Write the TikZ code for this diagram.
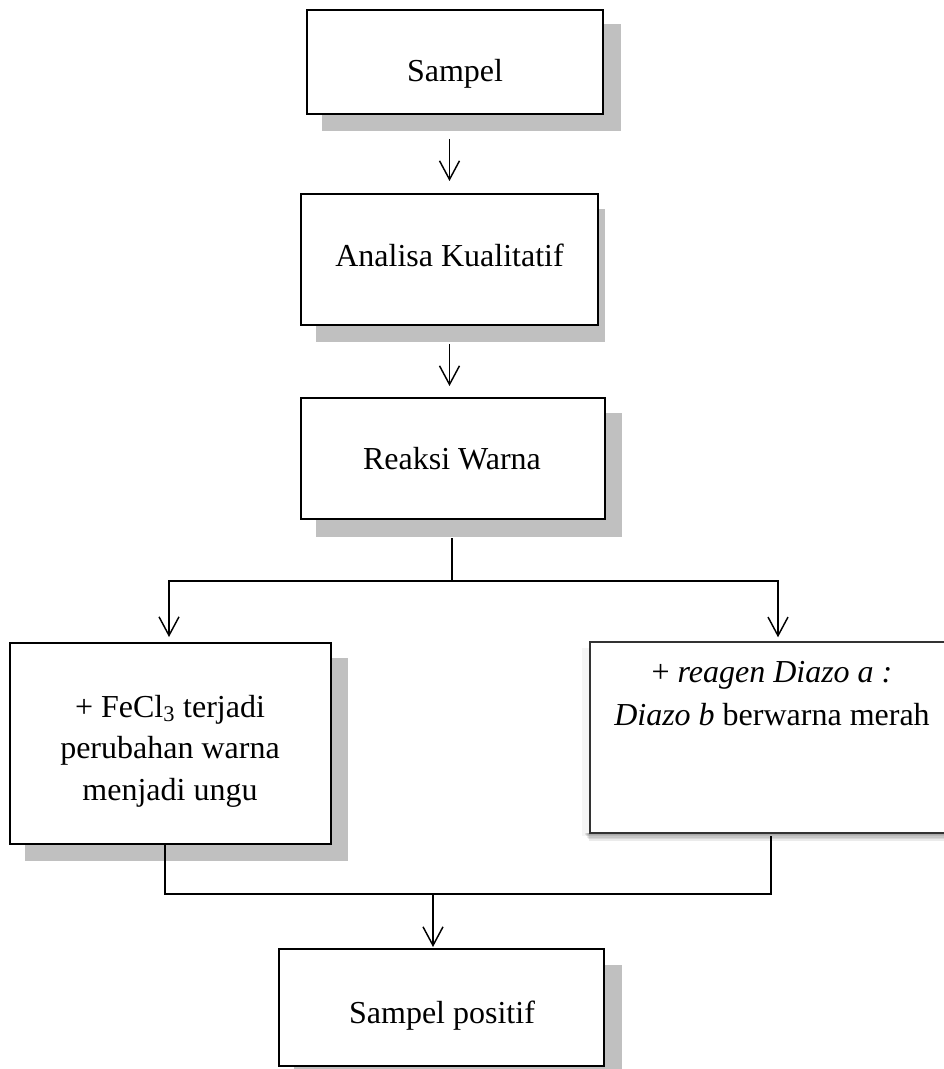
\documentclass[tikz,border=0pt]{standalone}
\usepackage{fontspec}
\setmainfont{Liberation Serif}
\usetikzlibrary{arrows.meta}
\definecolor{shd}{RGB}{192,192,192}
\begin{document}
\begin{tikzpicture}[x=0.75pt,y=-0.75pt,
  box/.style={draw=black, line width=1.5pt, fill=white, inner sep=0pt},
  shadowbox/.style={fill=shd},
  conn/.style={draw=black, line width=1.4pt},
  arr/.style={conn, -{Straight Barb[length=14pt,width=15pt,line width=1.1pt]}},
  lbl/.style={anchor=base, inner sep=0pt, font=\fontsize{24}{30}\selectfont}]
\path[use as bounding box, clip] (0,0) rectangle (944,1069);
\fill[white] (0,0) rectangle (944,1069);

% shadows
\fill[shadowbox] (322,24) rectangle (621,131);
\fill[shadowbox] (316,209) rectangle (605,342);
\fill[shadowbox] (316,413) rectangle (622,537);
\fill[shadowbox] (25,658) rectangle (348,861);
\fill[shadowbox] (294,965) rectangle (622,1075);
\fill[black, opacity=0.04] (582,648) rectangle (590,836);
\foreach \r in {1,...,5} \fill[black, opacity=0.08] (584+\r,833) rectangle (950,833+\r*1.5);

% boxes
\node[box, minimum width=222pt, minimum height=78pt] (b1) at (455,62) {};
\node[box, minimum width=222.75pt, minimum height=98.25pt] (b2) at (449.5,259.5) {};
\node[box, minimum width=228pt, minimum height=90.75pt] (b3) at (453,458.5) {};
\node[box, minimum width=240.75pt, minimum height=150.75pt] (b4) at (170.5,743.5) {};
\node[box, draw=black!80, line width=1.1pt, minimum width=267.75pt, minimum height=143.25pt] (b5) at (768.5,737.5) {};
\node[box, minimum width=243.75pt, minimum height=87.75pt] (b6) at (441.5,1007.5) {};

% texts
\node[lbl] (t1) at (455,82) {Sampel};
\node[lbl] (t2) at (449.5,267) {Analisa Kualitatif};
\node[lbl] (t3) at (452,469) {Reaksi Warna};
\node[lbl] (t4a) at (170,717) {+ FeCl\textsubscript{3} terjadi};
\node[lbl] (t4b) at (170,758) {perubahan warna};
\node[lbl] (t4c) at (170,800) {menjadi ungu};
\node[lbl] (t5a) at (772,682) {+ \textit{reagen Diazo a :}};
\node[lbl] (t5b) at (772,725) {\textit{Diazo b} berwarna merah};
\node[lbl] (t6) at (442,1023) {Sampel positif};

% junctions
\coordinate (j1) at (452,581);
\coordinate (j1l) at (169,581);
\coordinate (j1r) at (778,581);
\coordinate (j2) at (433,894);
\coordinate (j2l) at (165,894);
\coordinate (j2r) at (771,894);

% connectors
\draw[arr, shorten <=18pt, shorten >=9pt] (b1.south -| b2.north) -- (b2.north);
\draw[arr, shorten <=13.5pt, shorten >=8.25pt] (b2.south) -- (b2.south |- b3.north);
\draw[conn, shorten <=13.5pt] (b3.south -| j1) -- (j1);
\draw[arr, shorten >=3.75pt] (j1) -- (j1l) -- (b4.north -| j1l);
\draw[arr, shorten >=3pt] (j1) -- (j1r) -- (b5.north -| j1r);
\draw[conn, shorten >=1.5pt] (b4.south -| j2l) -- (j2l) -- (j2r) -- (b5.south -| j2r);
\draw[arr, shorten >=0.75pt] (j2) -- (b6.north -| j2);
\end{tikzpicture}
\end{document}
